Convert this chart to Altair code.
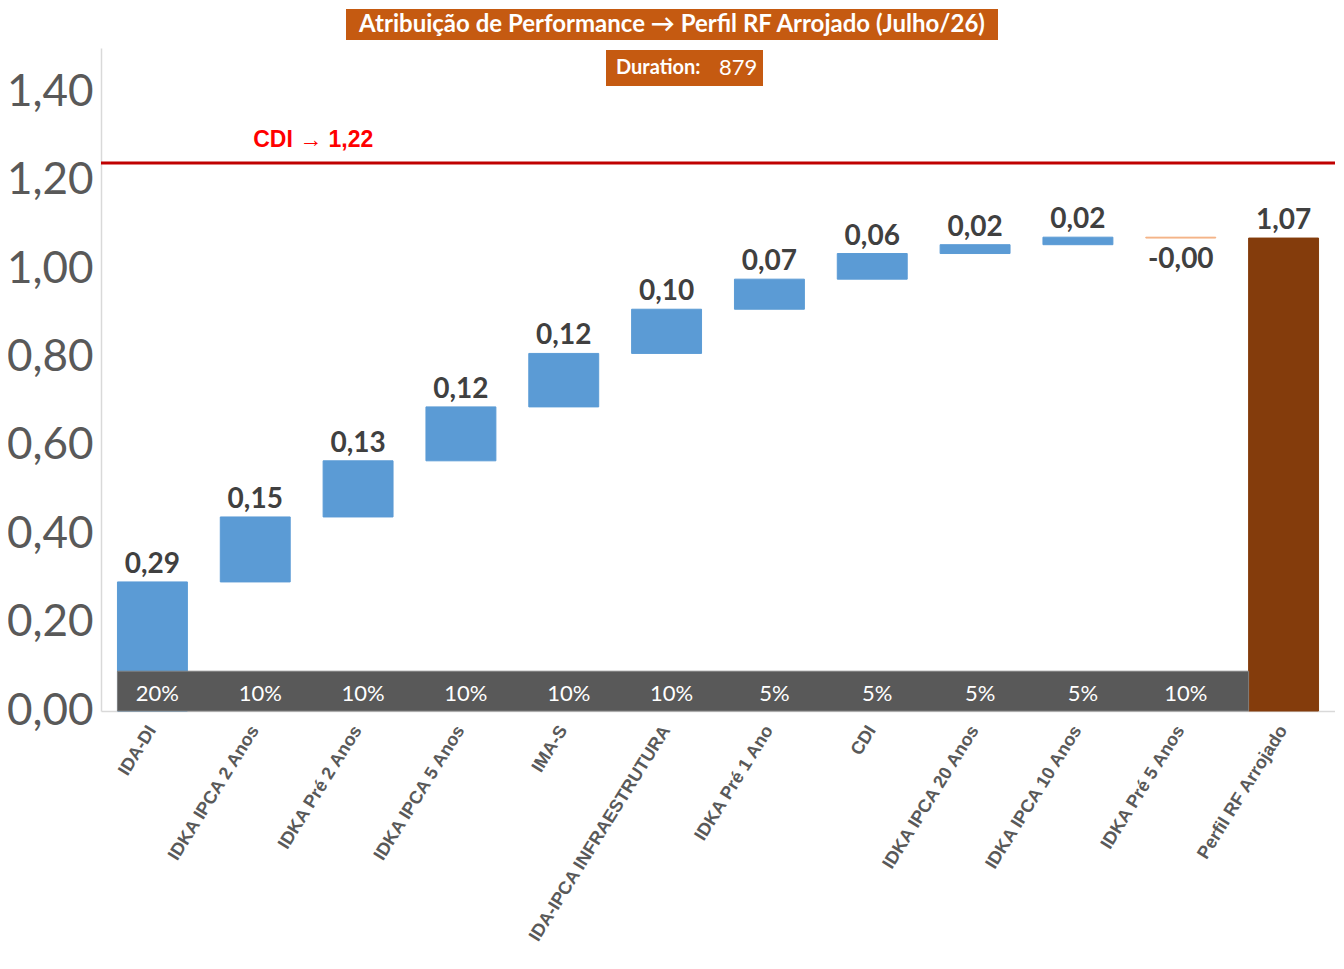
import altair as alt
import pandas as pd

# ---------------- data ----------------
categories = ["IDA-DI", "IDKA IPCA 2 Anos", "IDKA Pré 2 Anos", "IDKA IPCA 5 Anos", "IMA-S",
              "IDA-IPCA INFRAESTRUTURA", "IDKA Pré 1 Ano", "CDI", "IDKA IPCA 20 Anos",
              "IDKA IPCA 10 Anos", "IDKA Pré 5 Anos"]
contrib = [0.292, 0.147, 0.127, 0.122, 0.121, 0.100, 0.068, 0.058, 0.020, 0.017, -0.002]
weights = ["20%", "10%", "10%", "10%", "10%", "10%", "5%", "5%", "5%", "5%", "10%"]
total_label = "Perfil RF Arrojado"
total_value = 1.07
cdi_level = 1.24
cdi_text = "CDI → 1,22"
title_text = "Atribuição de Performance → Perfil RF Arrojado (Julho/26)"
duration_label = "Duration:"
duration_value = "879"
band_top = 0.09

# ---------------- tables ----------------
rows = []
cum = 0.0
for c, v in zip(categories, contrib):
    s = cum
    cum += v
    rows.append({"cat": c, "start": s, "end": cum, "kind": "pos" if v >= 0 else "neg",
                 "label": f"{v:.2f}".replace(".", ","),
                 "top": max(s, cum), "bot": min(s, cum)})
rows.append({"cat": total_label, "start": 0.0, "end": total_value, "kind": "total",
             "label": f"{total_value:.2f}".replace(".", ","), "top": total_value, "bot": 0.0})
df = pd.DataFrame(rows)
wdf = pd.DataFrame({"cat": categories, "w": weights})
band_df = pd.DataFrame({"s": [categories[0]], "e": [total_label], "y0": [0.0], "y1": [band_top]})
cdi_df = pd.DataFrame({"cdi": [cdi_level], "txt": [cdi_text], "anchor": [categories[1]]})
title_df = pd.DataFrame({"t": [title_text], "d": [duration_label], "v": [duration_value]})

order = categories + [total_label]
xscale = alt.Scale(domain=order, paddingInner=0.32, paddingOuter=0.16)
yscale = alt.Scale(domain=[0, 1.5], nice=False)

x_axis = alt.Axis(title=None, labelAngle=-58, labelFont="Liberation Sans", labelFontWeight="bold",
                  labelFontSize=18, labelColor="#595959", ticks=False, domainColor="#D9D9D9",
                  domainWidth=1.5, labelPadding=16, labelLimit=0)
y_axis = alt.Axis(title=None, values=[0, 0.2, 0.4, 0.6, 0.8, 1.0, 1.2, 1.4],
                  labelExpr="replace(format(datum.value, '.2f'), '.', ',')",
                  labelFont="Lato", labelFontSize=44, labelColor="#595959", ticks=False,
                  grid=False, domainColor="#D9D9D9", domainWidth=1.5, labelPadding=8)

base = alt.Chart(df)
kind_scale = alt.Scale(domain=["pos", "neg", "total"], range=["#5B9BD5", "#F4B183", "#843C0C"])

bars = base.mark_bar(strokeWidth=1).encode(
    x=alt.X("cat:N", scale=xscale, axis=x_axis),
    y=alt.Y("start:Q", scale=yscale, axis=y_axis),
    y2="end:Q",
    color=alt.Color("kind:N", scale=kind_scale, legend=None),
    stroke=alt.Stroke("kind:N", scale=kind_scale, legend=None),
)

lab_pos = base.transform_filter("datum.kind != 'neg'").mark_text(
    font="Lato", fontWeight="bold", fontSize=28, color="#404040", dy=-17, baseline="middle"
).encode(x=alt.X("cat:N", scale=xscale), y=alt.Y("top:Q", scale=yscale), text="label:N")

lab_neg = base.transform_filter("datum.kind == 'neg'").mark_text(
    font="Lato", fontWeight="bold", fontSize=28, color="#404040", dy=22, baseline="middle"
).encode(x=alt.X("cat:N", scale=xscale), y=alt.Y("bot:Q", scale=yscale), text="label:N")

band = alt.Chart(band_df).mark_rect(color="#595959", stroke="#7F7F7F", strokeWidth=1).encode(
    x=alt.X("s:N", scale=xscale, bandPosition=0),
    x2=alt.X2("e", bandPosition=0),
    y=alt.Y("y0:Q", scale=yscale),
    y2="y1:Q",
)

wtext = alt.Chart(wdf).mark_text(font="Lato", fontSize=22, color="white", dx=5, baseline="middle").encode(
    x=alt.X("cat:N", scale=xscale), y=alt.datum(0.038), text="w:N"
)

cdi_rule = alt.Chart(cdi_df).mark_rule(color="#C00000", strokeWidth=3).encode(
    y=alt.Y("cdi:Q", scale=yscale)
)
cdi_lab = alt.Chart(cdi_df).mark_text(font="Liberation Sans", fontWeight="bold", fontSize=23,
                                      color="#FF0000", dx=58, dy=-23, baseline="middle").encode(
    x=alt.X("anchor:N", scale=xscale), y=alt.Y("cdi:Q", scale=yscale), text="txt:N"
)

tchart = alt.Chart(title_df)
title_box = tchart.mark_rect(color="#C55A11").encode(
    x=alt.value(245), x2=alt.value(897), y=alt.value(-39), y2=alt.value(-8))
title_txt = tchart.mark_text(font="Lato", fontWeight="bold", fontSize=24, color="white",
                             baseline="middle", align="center").encode(
    x=alt.value(571), y=alt.value(-23), text="t:N")
dur_box = tchart.mark_rect(color="#C55A11").encode(
    x=alt.value(505), x2=alt.value(662), y=alt.value(2), y2=alt.value(38))
dur_lab = tchart.mark_text(font="Lato", fontWeight="bold", fontSize=20, color="white",
                           baseline="middle", align="left").encode(
    x=alt.value(515), y=alt.value(20), text="d:N")
dur_val = tchart.mark_text(font="Lato", fontSize=22, color="white",
                           baseline="middle", align="left").encode(
    x=alt.value(618), y=alt.value(20), text="v:N")

chart = alt.layer(
    cdi_rule, bars, band, wtext, lab_pos, lab_neg, cdi_lab,
    title_box, title_txt, dur_box, dur_lab, dur_val
).properties(
    width=1234, height=663,
    autosize=alt.AutoSizeParams(type="none"),
    padding={"left": 93, "top": 40, "right": 0, "bottom": 250},
    background="white",
).configure_view(stroke=None)

chart.save("out.html", embed_options={"renderer": "svg", "actions": False})
